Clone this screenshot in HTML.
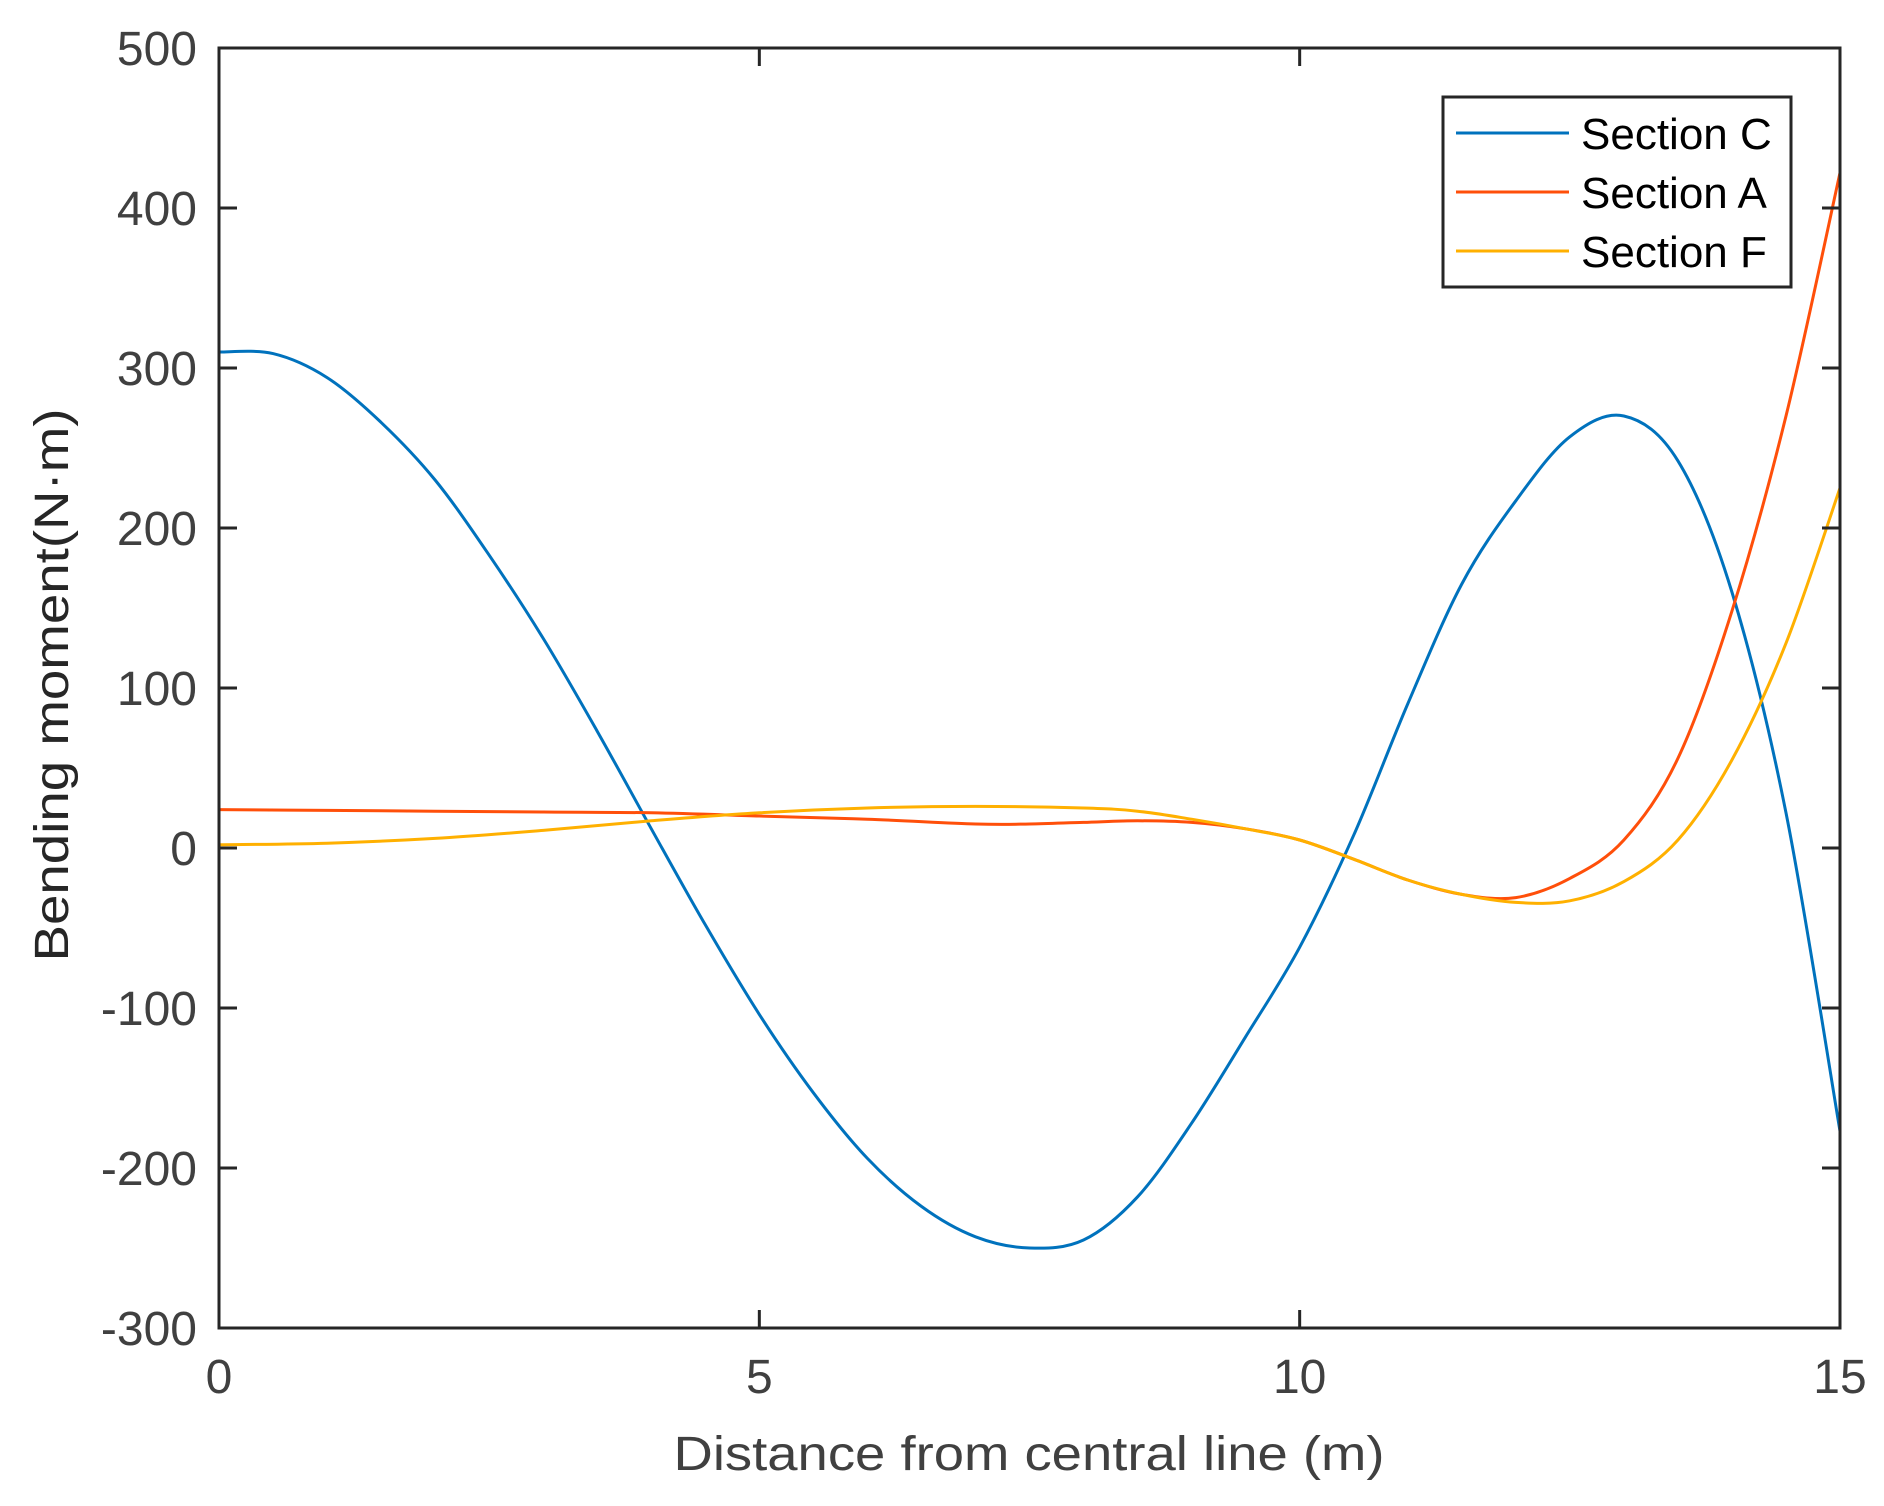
<!DOCTYPE html>
<html><head><meta charset="utf-8"><style>
html,body{margin:0;padding:0;background:#fff;}
svg{display:block;font-family:"Liberation Sans",Arial,sans-serif;}
</style></head><body>
<svg id="chart" width="1884" height="1506" viewBox="0 0 1884 1506" xmlns="http://www.w3.org/2000/svg">
<rect width="1884" height="1506" fill="#fff"/>
<g id="series"></g>
<g id="axes"></g>
<text x="1029" y="1470" font-size="48" fill="#404040" text-anchor="middle" textLength="711" lengthAdjust="spacingAndGlyphs">Distance from central line (m)</text>
<text transform="translate(68,685) rotate(-90)" font-size="48" fill="#262626" text-anchor="middle" textLength="553" lengthAdjust="spacingAndGlyphs">Bending moment(N·m)</text>
<g id="legend"></g>
</svg>
<script>
const xTicks=[0,5,10,15];
const yTicks=[-300,-200,-100,0,100,200,300,400,500];
const seriesNames=["Section C","Section A","Section F"];
const seriesColors=["#0072BD","#FF4F0A","#FFB000"];
const xC=[0,0.5,1,1.5,2,2.5,3,3.5,4,4.5,5,5.5,6,6.5,7,7.5,8,8.5,9,9.5,10,10.5,11,11.5,12,12.5,13,13.5,14,14.5,15];
const yC=[310,309,294,266,230,183,131,73,12,-48,-104,-153,-194,-224,-243,-250,-245,-218,-172,-118,-62,8,90,165,217,257,270,242,160,22,-177];
const xA=[0,1,2,3,4,5,6,7,7.5,8,8.5,9,9.5,10,10.5,11,11.5,12,12.5,13,13.5,14,14.5,15];
const yA=[24,23.5,23,22.5,22,20,18,15,15,16,17,16,12,5,-7,-20,-29,-31,-19,5,56,148,270,422];
const xF=[0,1,2,3,4,5,6,7,8,8.5,9,9.5,10,10.5,11,11.5,12,12.5,13,13.5,14,14.5,15];
const yF=[2,3,6,11,17,22,25,26,25,23,18,12,5,-7,-20,-29,-34,-33,-21,5,55,128,225];

const L=219,R=1840,T=48,B=1328;
const sx=v=>L+(v-0)/(15-0)*(R-L);
const sy=v=>B-(v+300)/800*(B-T);
const NS="http://www.w3.org/2000/svg";
function mk(tag,attrs,parent){const e=document.createElementNS(NS,tag);for(const k in attrs)e.setAttribute(k,attrs[k]);parent.appendChild(e);return e;}
function pathFor(xs,ys){
  const p=xs.map((x,i)=>[sx(x),sy(ys[i])]);
  let d="M"+p[0][0].toFixed(1)+","+p[0][1].toFixed(1);
  for(let i=0;i<p.length-1;i++){
    const p0=p[Math.max(0,i-1)],p1=p[i],p2=p[i+1],p3=p[Math.min(p.length-1,i+2)];
    const c1=[p1[0]+(p2[0]-p0[0])/6,p1[1]+(p2[1]-p0[1])/6];
    const c2=[p2[0]-(p3[0]-p1[0])/6,p2[1]-(p3[1]-p1[1])/6];
    d+=" C"+c1.map(v=>v.toFixed(1))+" "+c2.map(v=>v.toFixed(1))+" "+p2.map(v=>v.toFixed(1));
  }
  return d;
}
const sg=document.getElementById("series");
const data=[[xC,yC],[xA,yA],[xF,yF]];
const sNames=["series-section-c","series-section-a","series-section-f"];
data.forEach((s,i)=>{
  const el=mk("path",{d:pathFor(s[0],s[1]),fill:"none",stroke:seriesColors[i],"stroke-width":3},sg);
  
  
});
const ag=document.getElementById("axes");
const box=mk("rect",{x:L,y:T,width:R-L,height:B-T,fill:"none",stroke:"#262626","stroke-width":3},ag);


xTicks.forEach(v=>{
  const x=sx(v);
  mk("line",{x1:x,x2:x,y1:B,y2:B-18,stroke:"#262626","stroke-width":3},ag);
  mk("line",{x1:x,x2:x,y1:T,y2:T+18,stroke:"#262626","stroke-width":3},ag);
  const t=mk("text",{x:x,y:B+65,"font-size":48,fill:"#404040","text-anchor":"middle"},ag);
  t.textContent=v;
  
  
});
yTicks.forEach(v=>{
  const y=sy(v);
  mk("line",{x1:L,x2:L+18,y1:y,y2:y,stroke:"#262626","stroke-width":3},ag);
  mk("line",{x1:R,x2:R-18,y1:y,y2:y,stroke:"#262626","stroke-width":3},ag);
  const t=mk("text",{x:L-22,y:y+17,"font-size":48,fill:"#404040","text-anchor":"end"},ag);
  t.textContent=v;
  
  
});
const lg=document.getElementById("legend");
const lb=mk("rect",{x:1443,y:97,width:348,height:190,fill:"#fff",stroke:"#262626","stroke-width":3},lg);


seriesNames.forEach((n,i)=>{
  const y=133+i*59;
  const ln=mk("line",{x1:1456,x2:1569,y1:y,y2:y,stroke:seriesColors[i],"stroke-width":3},lg);
  
  
  const t=mk("text",{x:1581,y:y+16,"font-size":44,fill:"#000"},lg);
  t.textContent=n;
  
  
});
</script>
</body></html>
